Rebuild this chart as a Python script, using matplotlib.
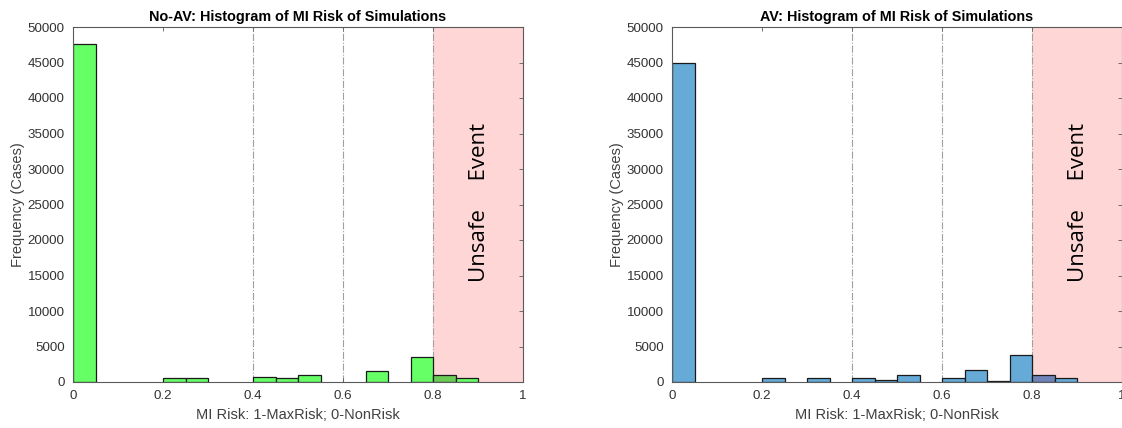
import numpy as np
import matplotlib.pyplot as plt

# Histogram counts per 0.05-wide MI risk bin (left edges)
bin_edges = [0.00, 0.05, 0.10, 0.15, 0.20, 0.25, 0.30, 0.35, 0.40, 0.45,
             0.50, 0.55, 0.60, 0.65, 0.70, 0.75, 0.80, 0.85, 0.90, 0.95]
noav_counts = [47600, 0, 0, 0, 500, 500, 0, 0, 700, 500,
               1000, 0, 0, 1550, 0, 3480, 1000, 500, 0, 0]
av_counts = [44900, 0, 0, 0, 500, 0, 500, 0, 500, 350,
             950, 0, 500, 1700, 200, 3800, 1050, 500, 0, 0]

bin_width = 0.05
unsafe_from = 0.8
guide_lines = [0.4, 0.6, 0.8]
y_ticks = np.arange(0, 50001, 5000)
x_ticks = [0, 0.2, 0.4, 0.6, 0.8, 1]

plt.rcParams["font.family"] = ["Liberation Sans", "DejaVu Sans"]
text_col = "#333333"
axis_col = "#5a5a5a"


def histograma(ax, counts, color, dark_color, title):
    for left, c in zip(bin_edges, counts):
        if c <= 0:
            continue
        fc = dark_color if left == unsafe_from else color
        ax.bar(left, c, width=bin_width, align="edge", color=fc,
               edgecolor="#1a1a1a", linewidth=0.9, zorder=2)

    # zona de evento inseguro
    ax.axvspan(unsafe_from, 1.0, color="#ffd6d6", zorder=1, lw=0)
    for x in guide_lines:
        ax.axvline(x, color="#a0a0a0", ls="-.", lw=0.8, zorder=1.5)

    ax.text(0.904, 25300, "Unsafe     Event", rotation=90, ha="center",
            va="center", fontsize=16, family=["Open Sans", "DejaVu Sans"],
            color="black", zorder=3)

    ax.set_xlim(0, 1)
    ax.set_ylim(0, 50000)
    ax.set_xticks(x_ticks)
    ax.set_xticklabels(["0", "0.2", "0.4", "0.6", "0.8", "1"])
    ax.set_yticks(y_ticks)
    ax.tick_params(direction="in", top=True, right=True, length=3,
                   width=0.6, color=axis_col, labelsize=9.6,
                   labelcolor=text_col, pad=6)
    for s in ax.spines.values():
        s.set_color(axis_col)
        s.set_linewidth(0.8)
    ax.set_title(title, fontsize=10.4, fontweight="bold", color="black", pad=4)
    ax.set_xlabel("MI Risk: 1-MaxRisk; 0-NonRisk", fontsize=10.5,
                  color="#404040", labelpad=4)
    ax.set_ylabel("Frequency (Cases)", fontsize=10.5, color="#404040",
                  labelpad=2)


fig = plt.figure(figsize=(11.22, 4.28), dpi=100)
ax1 = fig.add_axes([73 / 1122, 46 / 428, 450 / 1122, 355 / 428])
ax2 = fig.add_axes([672 / 1122, 46 / 428, 450 / 1122, 355 / 428])

histograma(ax1, noav_counts, "#66ff66", "#6bcb55",
           "No-AV: Histogram of MI Risk of Simulations")
histograma(ax2, av_counts, "#66aad7", "#6e84b8",
           "AV: Histogram of MI Risk of Simulations")

fig.savefig("out.png", dpi=100)
